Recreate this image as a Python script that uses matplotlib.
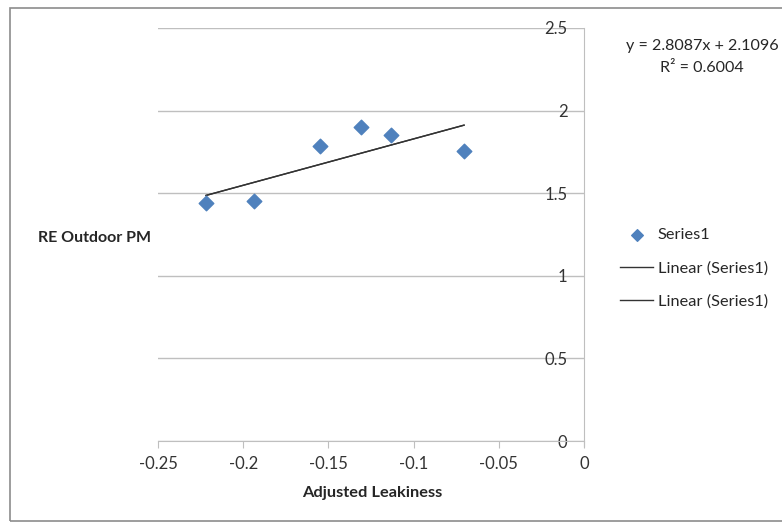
import numpy as np
import matplotlib
matplotlib.use("Agg")
import matplotlib.pyplot as plt
from matplotlib.patches import Rectangle

plt.rcParams["font.family"] = ["Lato", "DejaVu Sans"]

# data
leakiness = [-0.2218, -0.1937, -0.1549, -0.1309, -0.1133, -0.0704]
outdoor_pm = [1.441, 1.453, 1.786, 1.901, 1.852, 1.755]

# trendline from the equation shown on the chart
slope = 2.8087
intercept = 2.1096
r_squared = 0.6004

x_ticks = [-0.25, -0.2, -0.15, -0.1, -0.05, 0]
x_tick_labels = ["-0.25", "-0.2", "-0.15", "-0.1", "-0.05", "0"]
y_ticks = [0, 0.5, 1, 1.5, 2, 2.5]
y_tick_labels = ["0", "0.5", "1", "1.5", "2", "2.5"]

fig = plt.figure(figsize=(7.82, 5.25), dpi=100)
ax = fig.add_axes([158 / 782, 1 - 441 / 525, (584 - 158) / 782, (441 - 28) / 525])

# outer frame (right edge runs off the picture, as in the original)
fig.patches.append(Rectangle((10 / 782, 4 / 525), 790 / 782, 513 / 525,
                             transform=fig.transFigure, fill=False,
                             edgecolor="#8c8c8c", linewidth=1.2))

trend_x = np.array([min(leakiness), max(leakiness)])
trend_y = slope * trend_x + intercept

ax.scatter(leakiness, outdoor_pm, marker="D", s=55, color="#4F81BD",
           zorder=3, label="Series1")
ax.plot(trend_x, trend_y, color="#333333", linewidth=1.0, zorder=2,
        label="Linear (Series1)")
ax.plot(trend_x, trend_y, color="#333333", linewidth=1.0, zorder=2,
        label="Linear (Series1)")

ax.set_xlim(-0.25, 0)
ax.set_ylim(0, 2.5)

for s in ["top", "right"]:
    ax.spines[s].set_visible(False)
ax.spines["left"].set_position(("data", 0))
ax.spines["left"].set_color("#bfbfbf")
ax.spines["bottom"].set_color("#bfbfbf")
ax.spines["left"].set_bounds(-0.03, 2.5)

ax.set_yticks(y_ticks)
ax.set_yticklabels(y_tick_labels)
ax.set_xticks(x_ticks)
ax.set_xticklabels(x_tick_labels)
ax.tick_params(axis="y", length=0, pad=12, labelsize=12, labelcolor="#333333")
ax.tick_params(axis="x", length=5, direction="out", color="#bfbfbf",
               pad=6, labelsize=12, labelcolor="#333333")
ax.grid(axis="y", color="#bfbfbf", linewidth=1.0)
ax.set_axisbelow(True)

fig.text(94 / 782, 1 - 238 / 525, "RE Outdoor PM", ha="center", va="center",
         fontsize=11.5, fontweight="bold", color="#262626")
fig.text(372 / 782, 1 - 493 / 525, "Adjusted Leakiness", ha="center", va="center",
         fontsize=11.8, fontweight="bold", color="#262626")

fig.text(702 / 782, 1 - 57 / 525, f"y = {slope}x + {intercept}\nR² = {r_squared}",
         ha="center", va="center", fontsize=11.6, color="#262626", linespacing=1.65)

fig.legend(loc="center left", bbox_to_anchor=(612 / 782, 1 - 268 / 525),
           frameon=False, fontsize=11.8, labelspacing=1.15, handlelength=2.0,
           handletextpad=0.3, borderpad=0, labelcolor="#262626", markerscale=0.8)

fig.savefig("out.png", dpi=100)
